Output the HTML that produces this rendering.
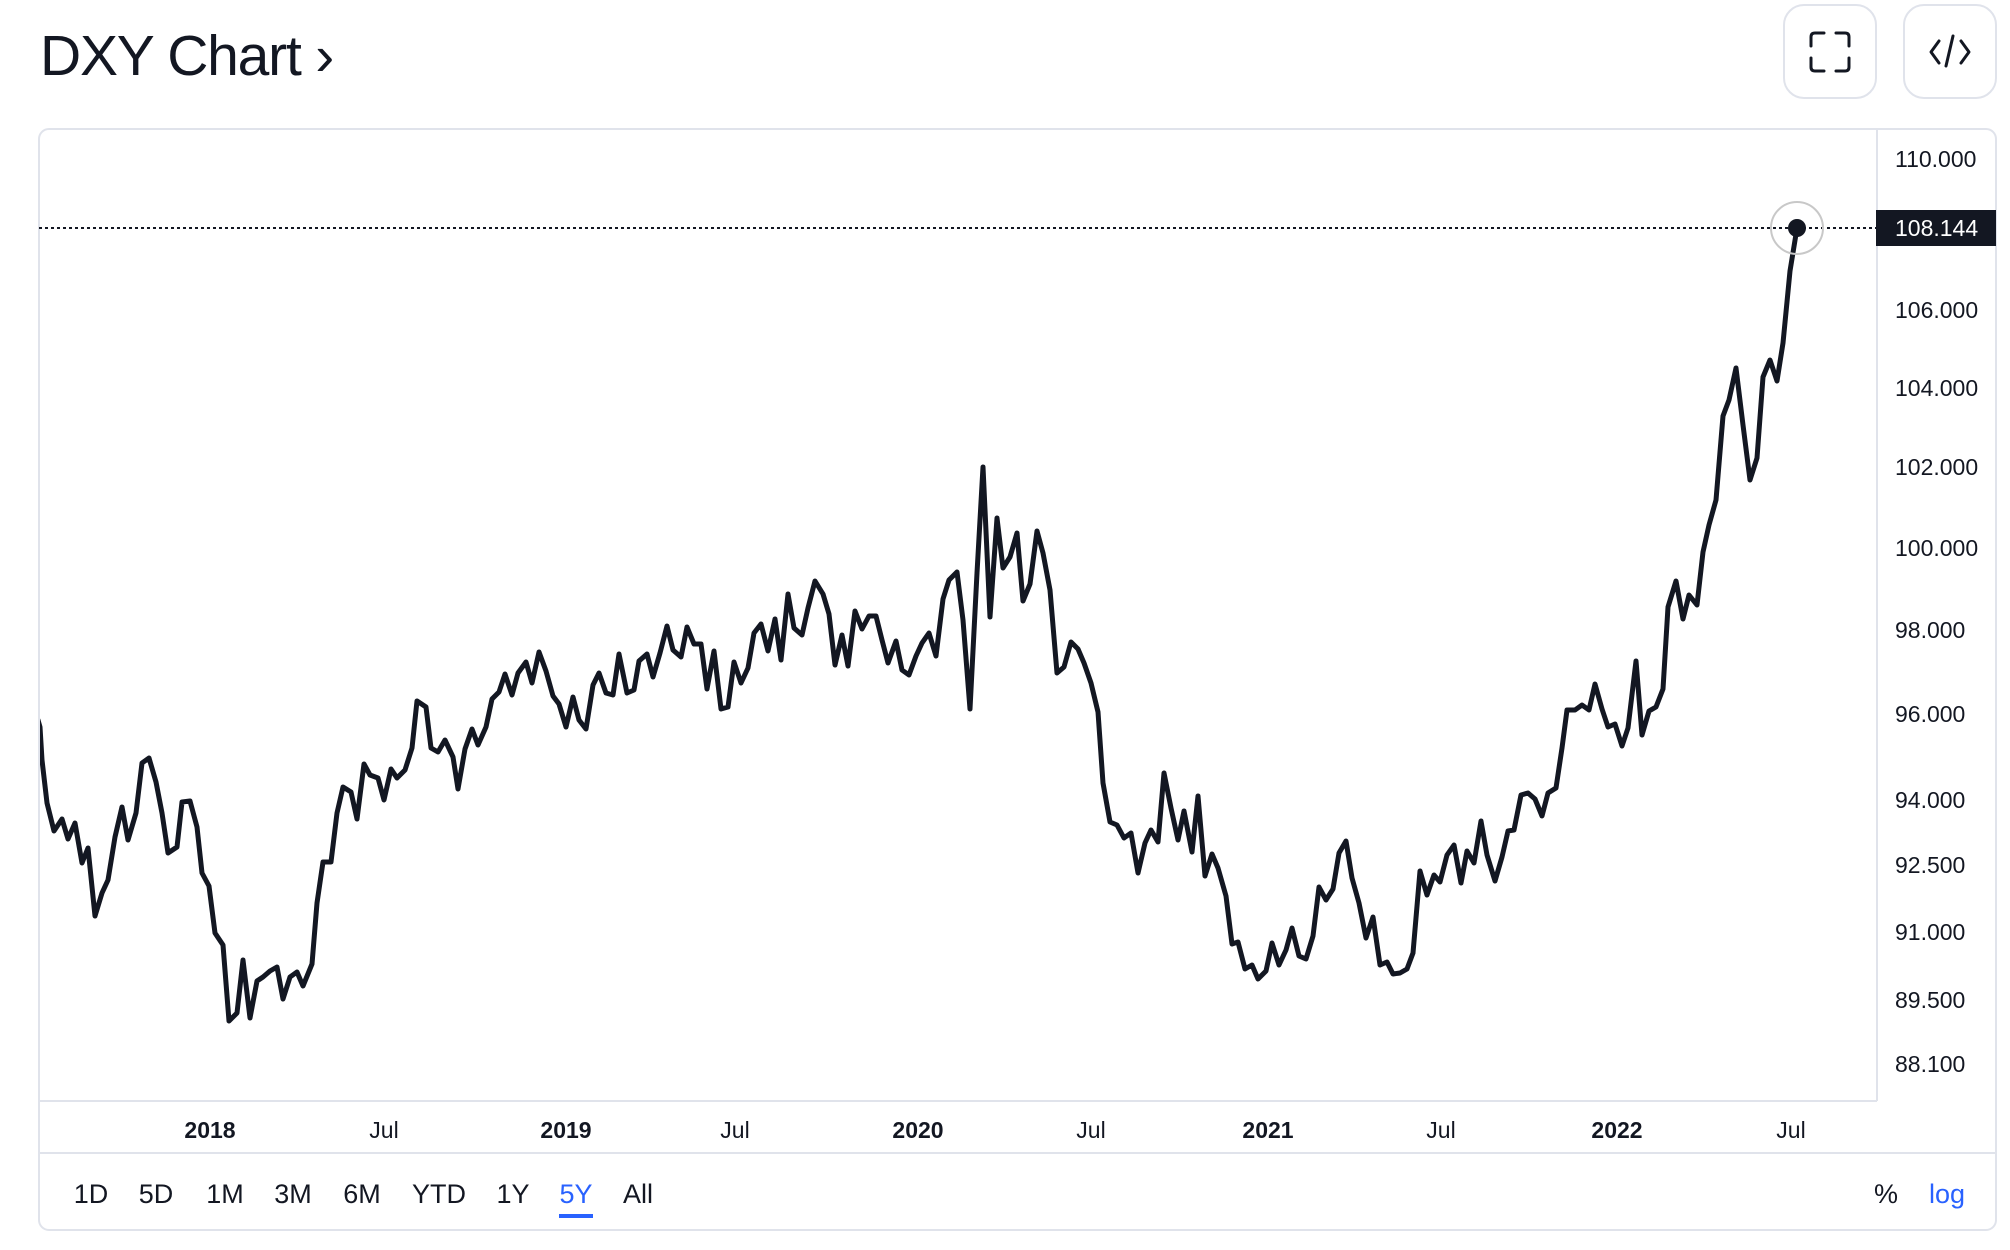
<!DOCTYPE html>
<html><head><meta charset="utf-8"><style>
html,body{margin:0;padding:0;background:#fff;}
svg{display:block;}
text{font-family:"Liberation Sans",Arial,sans-serif;}
</style></head><body>
<svg width="2010" height="1250" viewBox="0 0 2010 1250" xmlns="http://www.w3.org/2000/svg">
<rect x="0" y="0" width="2010" height="1250" fill="#fff"/>
<text x="40" y="75" font-size="57" fill="#131722" letter-spacing="-1.2">DXY Chart ›</text>
<rect x="1784" y="5" width="92" height="93" rx="20" fill="#fff" stroke="#e0e3eb" stroke-width="2"/>
<rect x="1904" y="5" width="92" height="93" rx="20" fill="#fff" stroke="#e0e3eb" stroke-width="2"/>
<g fill="none" stroke="#131722" stroke-width="3" stroke-linecap="round" stroke-linejoin="round">
<path d="M1811,46 V37 Q1811,33 1815,33 H1824"/>
<path d="M1836,33 H1845 Q1849,33 1849,37 V46"/>
<path d="M1849,58 V67 Q1849,71 1845,71 H1836"/>
<path d="M1824,71 H1815 Q1811,71 1811,67 V58"/>
<path d="M1939,41 L1931,52 L1939,63"/>
<path d="M1953,36 L1946,66"/>
<path d="M1961,41 L1969,52 L1961,63"/>
</g>
<rect x="39" y="129" width="1957" height="1101" rx="10" fill="#fff" stroke="#e0e3eb" stroke-width="2"/>
<line x1="1877" y1="129" x2="1877" y2="1101" stroke="#e0e3eb" stroke-width="2"/>
<line x1="39" y1="1101" x2="1877" y2="1101" stroke="#e0e3eb" stroke-width="2"/>
<line x1="39" y1="1153" x2="1996" y2="1153" stroke="#e0e3eb" stroke-width="2"/>
<line x1="39" y1="228" x2="1877" y2="228" stroke="#131722" stroke-width="2" stroke-dasharray="3,3"/>
<defs><clipPath id="pc"><rect x="40" y="130" width="1836" height="970"/></clipPath></defs>
<g clip-path="url(#pc)">
<polyline fill="none" stroke="#131722" stroke-width="5" stroke-linejoin="round" stroke-linecap="round" points="
38,720 40,727 42,760 47,803 54,831 62,819 68,839 75,823 82,863 88,848 95,916 102,893 108,880 115,837 122,807 128,840 136,813 142,763 149,758 156,782 162,813 168,853 177,847 182,802 190,801 197,827 202,873 209,886 215,933 223,945 229,1021 237,1013 243,960 250,1018 257,981 263,977 270,971 277,967 283,999 290,977 297,972 303,986 312,964 317,903 323,862 331,862 337,813 343,787 351,792 357,819 364,764 370,775 378,778 384,800 391,769 397,778 405,770 412,748 417,701 426,707 431,748 438,752 445,740 453,757 458,789 465,749 472,729 478,745 486,727 492,699 499,692 505,674 512,695 518,673 526,662 532,683 539,652 546,671 553,696 559,704 566,727 573,697 579,720 586,729 593,685 599,673 606,693 613,695 619,654 627,693 634,690 639,661 647,654 653,677 660,653 667,626 673,650 681,657 687,627 694,644 701,644 707,689 714,651 721,709 728,707 734,662 741,683 748,668 754,633 761,624 768,651 775,619 781,660 788,594 794,628 802,635 808,608 815,581 823,594 829,614 835,665 842,635 848,666 855,611 862,629 869,616 876,616 882,640 888,663 896,641 902,670 909,675 916,656 922,643 929,633 936,656 943,599 949,580 957,572 963,620 970,709 977,573 983,467 990,617 997,518 1003,568 1010,557 1017,533 1023,601 1030,584 1037,531 1043,553 1050,590 1057,673 1064,667 1071,642 1078,649 1084,663 1091,683 1098,712 1103,783 1110,822 1117,825 1124,838 1131,833 1138,873 1145,843 1151,830 1158,842 1164,773 1171,808 1178,840 1184,811 1192,852 1198,796 1205,876 1212,854 1218,868 1226,896 1232,944 1238,942 1245,969 1252,965 1258,979 1266,971 1272,943 1279,965 1286,950 1292,928 1299,956 1306,959 1313,936 1319,887 1326,900 1333,889 1339,853 1346,841 1352,878 1359,903 1366,938 1373,917 1380,965 1387,962 1393,974 1400,973 1407,969 1413,953 1420,871 1427,895 1434,875 1440,882 1447,855 1454,845 1461,883 1467,851 1474,863 1481,821 1487,855 1495,881 1502,857 1508,831 1514,830 1521,795 1528,793 1535,799 1542,816 1548,793 1556,788 1562,748 1567,710 1575,710 1582,705 1589,710 1595,684 1602,709 1608,727 1615,724 1622,746 1628,728 1636,661 1642,735 1649,711 1656,707 1663,689 1668,607 1676,581 1683,619 1689,595 1697,605 1703,552 1709,525 1716,500 1723,416 1729,400 1736,368 1743,425 1750,480 1757,458 1763,377 1770,360 1777,381 1783,343 1790,271 1797,228"/>
</g>
<circle cx="1797" cy="228" r="26" fill="none" stroke="#c8c8c8" stroke-width="2"/>
<circle cx="1797" cy="228" r="9" fill="#131722"/>
<g font-size="23" fill="#131722">
<text x="1895" y="167">110.000</text>
<text x="1895" y="318">106.000</text>
<text x="1895" y="396">104.000</text>
<text x="1895" y="475">102.000</text>
<text x="1895" y="556">100.000</text>
<text x="1895" y="638">98.000</text>
<text x="1895" y="722">96.000</text>
<text x="1895" y="808">94.000</text>
<text x="1895" y="873">92.500</text>
<text x="1895" y="940">91.000</text>
<text x="1895" y="1008">89.500</text>
<text x="1895" y="1072">88.100</text>
</g>
<rect x="1876" y="210" width="120" height="36" fill="#131722"/>
<text x="1895" y="236" font-size="23" fill="#ffffff">108.144</text>
<g font-size="23" fill="#131722" text-anchor="middle">
<text x="210" y="1138" font-weight="bold">2018</text>
<text x="384" y="1138">Jul</text>
<text x="566" y="1138" font-weight="bold">2019</text>
<text x="735" y="1138">Jul</text>
<text x="918" y="1138" font-weight="bold">2020</text>
<text x="1091" y="1138">Jul</text>
<text x="1268" y="1138" font-weight="bold">2021</text>
<text x="1441" y="1138">Jul</text>
<text x="1617" y="1138" font-weight="bold">2022</text>
<text x="1791" y="1138">Jul</text>
</g>
<g font-size="27" fill="#131722" text-anchor="middle">
<text x="91" y="1203">1D</text>
<text x="156" y="1203">5D</text>
<text x="225" y="1203">1M</text>
<text x="293" y="1203">3M</text>
<text x="362" y="1203">6M</text>
<text x="439" y="1203">YTD</text>
<text x="513" y="1203">1Y</text>
<text x="576" y="1203" fill="#2962ff">5Y</text>
<text x="638" y="1203">All</text>
<text x="1886" y="1203">%</text>
<text x="1947" y="1203" fill="#2962ff">log</text>
</g>
<rect x="559" y="1214" width="34" height="4" fill="#2962ff"/>
</svg>
</body></html>
